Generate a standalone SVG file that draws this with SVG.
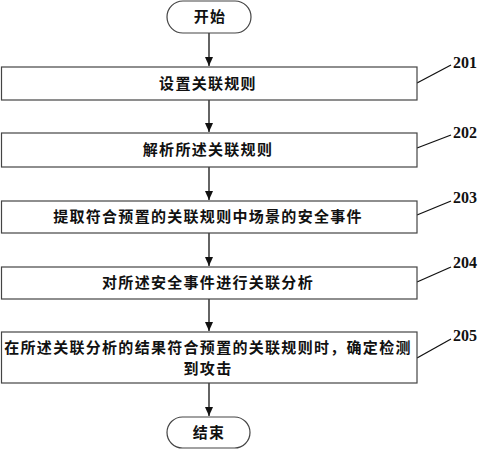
<svg xmlns="http://www.w3.org/2000/svg" width="479" height="450" viewBox="0 0 479 450">
<style>
.box{fill:#fff;stroke:#444;stroke-width:1.2}
.t{font-family:"Noto Sans CJK SC","Noto Sans CJK JP",sans-serif;font-size:15px;font-weight:bold;fill:#111;text-anchor:middle;letter-spacing:1.3px}
.lbl{font-family:"Liberation Serif",serif;font-size:16px;font-weight:bold;fill:#111}
.ln{stroke:#111;stroke-width:1.3;fill:none}
</style>
<defs>
<marker id="ah" markerWidth="10" markerHeight="10" refX="9" refY="5" orient="auto" markerUnits="userSpaceOnUse">
<path d="M0,1 L9,5 L0,9 Z" fill="#111"/>
</marker>
</defs>
<g id="connectors">
<line class="ln" x1="209" y1="33" x2="209" y2="66" marker-end="url(#ah)"/>
<line class="ln" x1="209" y1="100" x2="209" y2="132" marker-end="url(#ah)"/>
<line class="ln" x1="209" y1="167" x2="209" y2="200" marker-end="url(#ah)"/>
<line class="ln" x1="209" y1="233" x2="209" y2="266" marker-end="url(#ah)"/>
<line class="ln" x1="209" y1="299" x2="209" y2="331" marker-end="url(#ah)"/>
<line class="ln" x1="209" y1="383" x2="209" y2="416" marker-end="url(#ah)"/>
<line class="ln" x1="417" y1="83" x2="451" y2="65"/>
<line class="ln" x1="417" y1="148" x2="451" y2="135"/>
<line class="ln" x1="417" y1="215" x2="451" y2="201"/>
<line class="ln" x1="417" y1="282" x2="451" y2="267"/>
<line class="ln" x1="417" y1="358" x2="451" y2="339"/>
</g>
<g id="start">
<rect class="box" x="167" y="1" width="84" height="32" rx="16"/>
<text class="t" x="210" y="22">开始</text>
</g>
<g id="n201">
<rect class="box" x="1.5" y="67" width="415.5" height="33"/>
<text class="t" x="208" y="89">设置关联规则</text>
<text class="lbl" x="453" y="68">201</text>
</g>
<g id="n202">
<rect class="box" x="1.5" y="133" width="415.5" height="34"/>
<text class="t" x="208" y="155">解析所述关联规则</text>
<text class="lbl" x="453" y="138">202</text>
</g>
<g id="n203">
<rect class="box" x="1.5" y="201" width="415.5" height="32"/>
<text class="t" x="208" y="222">提取符合预置的关联规则中场景的安全事件</text>
<text class="lbl" x="453" y="203">203</text>
</g>
<g id="n204">
<rect class="box" x="1.5" y="267" width="415.5" height="32"/>
<text class="t" x="208" y="288">对所述安全事件进行关联分析</text>
<text class="lbl" x="453" y="268">204</text>
</g>
<g id="n205">
<rect class="box" x="1.5" y="332" width="415.5" height="51"/>
<text class="t" x="208" y="353">在所述关联分析的结果符合预置的关联规则时，确定检测</text>
<text class="t" x="208" y="374">到攻击</text>
<text class="lbl" x="453" y="341">205</text>
</g>
<g id="end">
<rect class="box" x="167" y="417" width="83" height="31" rx="15.5"/>
<text class="t" x="209" y="438">结束</text>
</g>
</svg>
